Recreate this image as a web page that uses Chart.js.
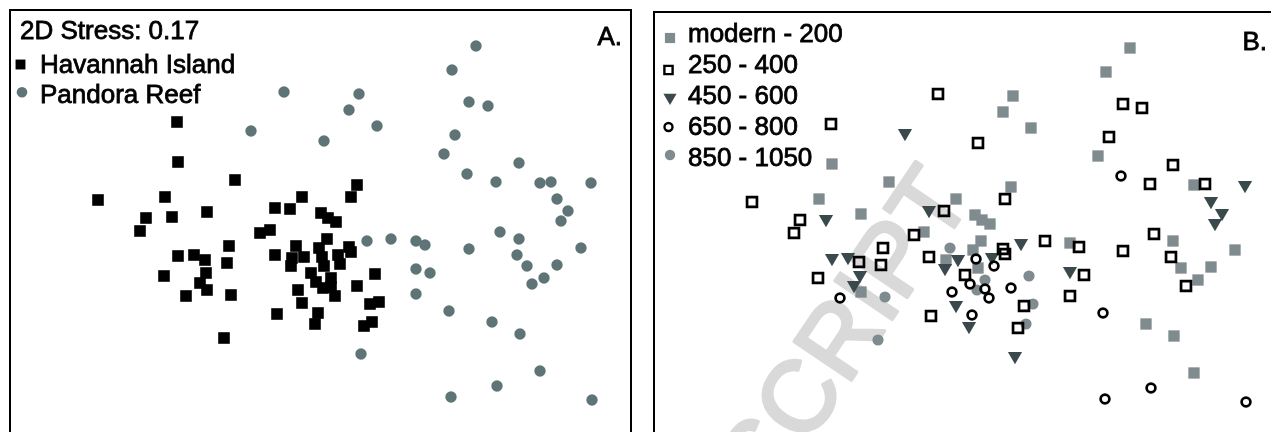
<!DOCTYPE html>
<html><head><meta charset="utf-8">
<script src="https://cdn.jsdelivr.net/npm/chart.js@4"></script>
<style>
html,body{margin:0;padding:0;background:#fff;width:1271px;height:432px;overflow:hidden;}
#wrapA{position:absolute;left:0;top:0;width:640px;height:432px;}
#wrapB{position:absolute;left:640px;top:0;width:631px;height:432px;}
canvas{display:block;}
</style></head><body>
<div id="wrapA"><canvas id="cA" width="640" height="432"></canvas></div>
<div id="wrapB"><canvas id="cB" width="631" height="432"></canvas></div>
<script>
// ---- data (nMDS ordination, same samples in both panels) ----
const siteNames = ['Havannah Island', 'Pandora Reef'];
const ageClasses = ['modern - 200', '250 - 400', '450 - 600', '650 - 800', '850 - 1050'];
const stressText = '2D Stress: 0.17';
const panelLabels = ['A.', 'B.'];
const watermarkText = 'MANUSCRIPT';

const havannahMds1 = [-1.43,-1.42,-0.85,-2.22,-1.55,-1.13,-1.74,-1.48,-1.80,-0.91,-1.42,-1.26,-1.15,-0.93,-1.56,-1.14,-1.20,-1.13,-1.34,-0.89,-0.96,
  0.37,0.31,-0.18,-0.45,-0.30,0.01,0.08,0.16,-0.60,-0.50,0.07,-0.24,-0.01,0.29,-0.45,-0.16,-0.28,0.02,0.18,0.31,
  -0.29,0.04,0.20,-0.09,0.11,0.55,-0.04,0.03,0.11,-0.22,0.37,0.15,-0.18,0.50,0.59,-0.02,-0.43,-0.05,0.44,0.52];
const havannahMds2 = [0.94,0.54,0.36,0.16,0.19,0.04,-0.02,-0.01,-0.15,-0.30,-0.40,-0.39,-0.44,-0.47,-0.60,-0.57,-0.67,-0.74,-0.80,-0.79,-1.22,
  0.31,0.19,0.19,0.08,0.07,0.03,-0.02,-0.06,-0.17,-0.14,-0.23,-0.30,-0.32,-0.31,-0.39,-0.41,-0.42,-0.41,-0.39,-0.36,
  -0.50,-0.50,-0.48,-0.57,-0.62,-0.58,-0.66,-0.72,-0.71,-0.74,-0.70,-0.80,-0.87,-0.88,-0.86,-0.97,-0.98,-1.08,-1.10,-1.06];
const havannahAge = [1,0,0,1,0,0,1,2,1,1,2,2,1,1,1,2,2,0,3,4,4,
  0,1,0,2,1,0,0,0,1,0,0,4,0,1,1,2,0,3,2,1,
  2,0,3,1,4,4,3,4,3,3,3,3,2,1,4,3,1,2,1,4];

const pandoraMds1 = [-0.36,-0.69,0.39,0.29,0.57,0.04,1.56,1.32,1.49,1.68,
  1.35,1.24,1.99,1.47,1.76,2.20,2.31,2.71,2.37,2.48,
  2.41,1.80,1.99,0.47,0.71,0.96,1.05,1.49,1.97,2.61,
  0.96,1.10,2.07,2.37,2.24,2.12,0.96,1.29,1.72,2.00,
  0.41,2.20,1.77,1.31,2.72];
const pandoraMds2 = [1.24,0.85,1.22,1.06,0.90,0.75,1.70,1.46,1.14,1.10,
  0.81,0.62,0.53,0.42,0.34,0.33,0.34,0.33,0.17,0.05,
  -0.05,-0.16,-0.23,-0.25,-0.23,-0.25,-0.29,-0.33,-0.39,-0.32,
  -0.53,-0.57,-0.50,-0.49,-0.62,-0.68,-0.78,-0.95,-1.06,-1.18,
  -1.38,-1.55,-1.70,-1.81,-1.84];
const pandoraAge = [1,2,0,0,0,1,0,0,1,1,
  1,0,1,3,1,0,1,2,2,2,
  2,1,0,2,1,0,1,1,1,0,
  2,1,0,0,0,1,1,3,0,0,
  2,0,3,3,3];

// ---- styling ----
const FONT = '"Liberation Sans", Arial, Helvetica, sans-serif';
const GREY = '#7f8b8e', SLATE = '#5f7476', DARK = '#3a4a4c';
const ageStyles = [
  {pointStyle:'rect', radius:8.0, rotation:0, fill:GREY, stroke:GREY, bw:0, order:5},
  {pointStyle:'rect', radius:7.0, rotation:0, fill:'rgba(0,0,0,0)', stroke:'#000', bw:2.7, order:2},
  {pointStyle:'triangle', radius:8.2, rotation:180, fill:DARK, stroke:DARK, bw:0, order:3},
  {pointStyle:'circle', radius:4.4, rotation:0, fill:'rgba(0,0,0,0)', stroke:'#000', bw:2.7, order:1},
  {pointStyle:'circle', radius:5.6, rotation:0, fill:GREY, stroke:GREY, bw:0, order:4}
];

const toPts = (xs, ys) => xs.map((x, i) => ({x: x, y: ys[i]}));

function baseOptions(xMin, xMax, yMin, yMax) {
  return {
    responsive: false, animation: false, devicePixelRatio: 1, events: [],
    layout: {padding: 0, autoPadding: false},
    scales: {
      x: {type: 'linear', display: false, min: xMin, max: xMax},
      y: {type: 'linear', display: false, min: yMin, max: yMax}
    },
    plugins: {legend: {display: false}, tooltip: {enabled: false}, title: {display: false}}
  };
}

function marker(ctx, st, x, y, r) {
  ctx.save();
  ctx.fillStyle = st.fill; ctx.strokeStyle = st.stroke; ctx.lineWidth = st.bw;
  const opts = {pointStyle: st.pointStyle, rotation: st.rotation, radius: r, borderWidth: st.bw};
  if (Chart.helpers && Chart.helpers.drawPoint) {
    Chart.helpers.drawPoint(ctx, opts, x, y);
  } else {
    ctx.beginPath();
    if (st.pointStyle === 'circle') ctx.arc(x, y, r, 0, Math.PI * 2);
    else if (st.pointStyle === 'rect') { const s = r * Math.SQRT1_2; ctx.rect(x - s, y - s, 2 * s, 2 * s); }
    else { const h = r; ctx.moveTo(x, y + h); ctx.lineTo(x - h * 0.866, y - h / 2); ctx.lineTo(x + h * 0.866, y - h / 2); ctx.closePath(); }
    ctx.fill(); if (st.bw > 0) ctx.stroke();
  }
  ctx.restore();
}

function heavyText(ctx, txt, x, y) {
  ctx.fillText(txt, x, y);
  ctx.strokeText(txt, x, y);
}

// ---- Panel A ----
const framePluginA = {
  id: 'frameA',
  beforeDatasetsDraw(chart) {
    const ctx = chart.ctx;
    ctx.save(); ctx.strokeStyle = '#000'; ctx.lineWidth = 2;
    ctx.strokeRect(10, 10, 621, 600);
    ctx.restore();
  },
  afterDraw(chart) {
    const ctx = chart.ctx;
    ctx.save();
    ctx.fillStyle = '#000'; ctx.strokeStyle = '#000'; ctx.lineWidth = 0.8;
    ctx.font = '26px ' + FONT; ctx.textBaseline = 'alphabetic';
    ctx.textAlign = 'left';
    heavyText(ctx, stressText, 20, 39);
    heavyText(ctx, siteNames[0], 40, 72.5);
    heavyText(ctx, siteNames[1], 40, 103);
    ctx.textAlign = 'right';
    heavyText(ctx, panelLabels[0], 622, 45);
    marker(ctx, {pointStyle:'rect', rotation:0, fill:'#000', stroke:'#000', bw:0}, 20.5, 64.5, 7);
    marker(ctx, {pointStyle:'circle', rotation:0, fill:SLATE, stroke:SLATE, bw:0}, 22, 92.3, 5.3);
    ctx.restore();
  }
};

new Chart(document.getElementById('cA'), {
  type: 'scatter',
  data: {
    datasets: [
      {label: siteNames[0], data: toPts(havannahMds1, havannahMds2), showLine: false,
       pointStyle: 'rect', pointRadius: 8.2, pointBackgroundColor: '#000', pointBorderColor: '#000', pointBorderWidth: 0,
       backgroundColor: '#000', borderColor: '#000'},
      {label: siteNames[1], data: toPts(pandoraMds1, pandoraMds2), showLine: false,
       pointStyle: 'circle', pointRadius: 5.7, pointBackgroundColor: SLATE, pointBorderColor: SLATE, pointBorderWidth: 0,
       backgroundColor: SLATE, borderColor: SLATE}
    ]
  },
  options: baseOptions(-3.2, 3.2, -2.16, 2.16),
  plugins: [framePluginA]
});

// ---- Panel B ----
const ageDatasets = ageClasses.map((name, k) => {
  const xs = [], ys = [];
  havannahAge.forEach((a, i) => { if (a === k) { xs.push(havannahMds1[i]); ys.push(havannahMds2[i]); } });
  pandoraAge.forEach((a, i) => { if (a === k) { xs.push(pandoraMds1[i]); ys.push(pandoraMds2[i]); } });
  const st = ageStyles[k];
  return {label: name, data: toPts(xs, ys), showLine: false, order: st.order,
    pointStyle: st.pointStyle, pointRotation: st.rotation, pointRadius: st.radius,
    pointBackgroundColor: st.fill, pointBorderColor: st.stroke, pointBorderWidth: st.bw,
    backgroundColor: st.fill, borderColor: st.stroke};
});

const framePluginB = {
  id: 'frameB',
  beforeDatasetsDraw(chart) {
    const ctx = chart.ctx;
    ctx.save();
    // watermark
    ctx.translate(334, 198);
    ctx.rotate(-56 * Math.PI / 180);
    ctx.font = '100px ' + FONT; ctx.fillStyle = '#d9d9d9'; ctx.strokeStyle = '#d9d9d9';
    ctx.lineWidth = 3.5; ctx.lineJoin = 'round';
    ctx.textAlign = 'right'; ctx.textBaseline = 'alphabetic';
    ctx.fillText(watermarkText, 0, 0);
    ctx.strokeText(watermarkText, 0, 0);
    ctx.restore();
    ctx.save(); ctx.strokeStyle = '#000'; ctx.lineWidth = 2;
    ctx.strokeRect(14, 12, 700, 600);
    ctx.restore();
  },
  afterDraw(chart) {
    const ctx = chart.ctx;
    ctx.save();
    ctx.fillStyle = '#000'; ctx.strokeStyle = '#000'; ctx.lineWidth = 0.8;
    ctx.font = '26px ' + FONT; ctx.textBaseline = 'alphabetic';
    const baselines = [42, 73, 104, 135, 166];
    const mk = [[30, 38, 7.2], [28.5, 70, 5.8], [30, 97.5, 7.6], [28.5, 127, 4.0], [30, 155, 5.2]];
    ageClasses.forEach((name, k) => {
      ctx.textAlign = 'left'; ctx.fillStyle = '#000'; ctx.strokeStyle = '#000'; ctx.lineWidth = 0.8;
      heavyText(ctx, name, 48, baselines[k]);
      const st = Object.assign({}, ageStyles[k]);
      if (st.bw > 0) st.bw = 2.4;
      marker(ctx, st, mk[k][0], mk[k][1], mk[k][2]);
    });
    ctx.fillStyle = '#000'; ctx.strokeStyle = '#000'; ctx.lineWidth = 0.8; ctx.textAlign = 'right';
    heavyText(ctx, panelLabels[1], 627, 50);
    ctx.restore();
  }
};

new Chart(document.getElementById('cB'), {
  type: 'scatter',
  data: {datasets: ageDatasets},
  options: baseOptions(-3.34, 2.97, -2.14, 2.18),
  plugins: [framePluginB]
});
</script>
</body></html>
